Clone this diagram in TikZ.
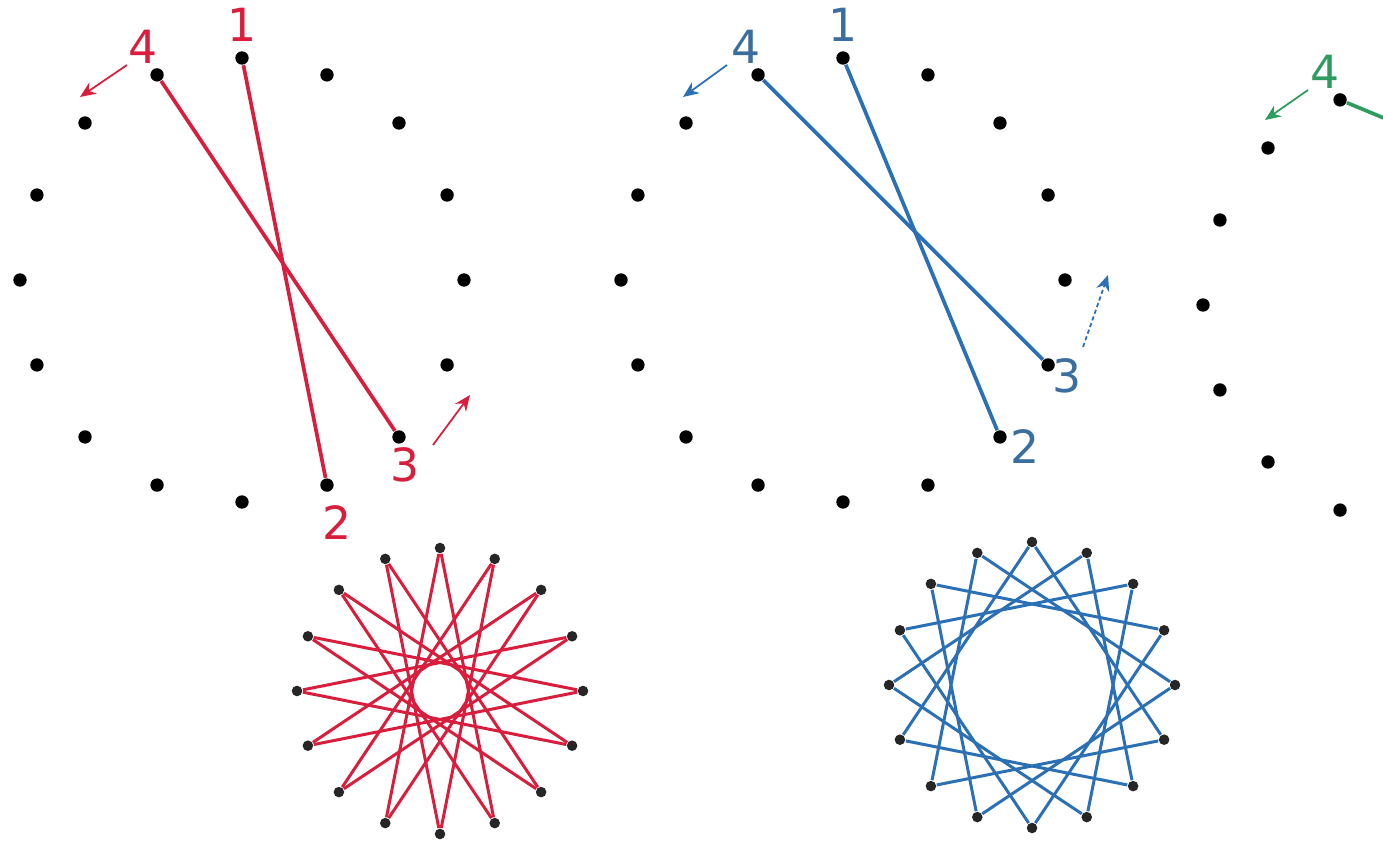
\documentclass[tikz,border=0pt]{standalone}
\usepackage{fontspec}
\setmainfont{DejaVu Sans}
\usetikzlibrary{arrows.meta, positioning, backgrounds, calc}
\definecolor{thrred}{HTML}{D81E3C}
\definecolor{thrblue}{HTML}{2B70B5}
\definecolor{lblblue}{HTML}{3A6E9E}
\definecolor{thrgreen}{HTML}{2E9C5E}

\begin{document}
\begin{tikzpicture}[
    x=0.01cm, y=0.01cm,
    pin/.style={circle, fill=black, inner sep=0pt, minimum size=3.8pt},
    spin/.style={circle, fill=black!85, inner sep=0pt, minimum size=3pt},
    thread/.style={line width=1.05pt, #1},
    sthread/.style={line width=0.85pt, #1},
    lbl/.style={text=#1, font=\fontsize{13}{15}\selectfont, inner sep=0pt},
    arrow/.style={-{Stealth[length=4.5pt, width=3.8pt]}, line width=0.5pt, #1}
  ]
    \useasboundingbox (0,0) rectangle (1383,843);
    \clip (0,0) rectangle (1383,843);

    % pins on the three boards and on the two finished stars
    \foreach \i in {0,...,15} {
      \node[pin] (r\i) at ($(242,563)+({90-22.5*\i}:222)$) {};
      \node[pin] (b\i) at ($(843,563)+({90-22.5*\i}:222)$) {};
      \node[spin] (rs\i) at ($(440,152)+({90-22.5*\i}:143)$) {};
      \node[spin] (bs\i) at ($(1032,158)+({90-22.5*\i}:143)$) {};
    }
    \foreach \i in {9,...,15}
      \node[pin] (g\i) at ($(1425,538)+({90-22.5*\i}:222)$) {};
    \coordinate (g3) at ($(1425,538)+(22.5:222)$);

    % threads
    \begin{scope}[on background layer]
      \draw[thread=thrred] (r0) -- (r7);
      \draw[thread=thrred] (r6) -- (r15);
      \draw[thread=thrblue] (b0) -- (b6);
      \draw[thread=thrblue] (b5) -- (b15);
      \draw[thread=thrgreen] (g15) -- (g3);
      \foreach \i in {0,...,15} {
        \pgfmathtruncatemacro\jr{mod(\i+7,16)}
        \pgfmathtruncatemacro\jb{mod(\i+5,16)}
        \draw[sthread=thrred] (rs\i) -- (rs\jr);
        \draw[sthread=thrblue] (bs\i) -- (bs\jb);
      }
    \end{scope}

    % numbers
    \node[lbl=thrred, above=0.8mm of r0] (rl1) {1};
    \node[lbl=thrred, below=1.2mm of r7, xshift=1mm] (rl2) {2};
    \node[lbl=thrred, below=0.3mm of r6, xshift=0.6mm] (rl3) {3};
    \node[lbl=thrred, above=0.3mm of r15, xshift=-1.4mm] (rl4) {4};
    \node[lbl=lblblue, above=0.8mm of b0] (bl1) {1};
    \node[lbl=lblblue, right=0.2mm of b6, yshift=-1mm] (bl2) {2};
    \node[lbl=lblblue, right=-0.35mm of b5, yshift=-1.1mm] (bl3) {3};
    \node[lbl=lblblue, above=0.3mm of b15, xshift=-1.2mm] (bl4) {4};
    \node[lbl=thrgreen, above=0.3mm of g15, xshift=-1.5mm] (gl4) {4};

    % direction arrows
    \coordinate (ra4s) at (127,778);
    \coordinate (ra4e) at (80,746);
    \coordinate (ra3s) at (433,398);
    \coordinate (ra3e) at (470,448);
    \coordinate (ba4s) at (727,778);
    \coordinate (ba4e) at (683,746);
    \coordinate (ba3s) at (1083,496);
    \coordinate (ba3e) at (1108,568);
    \coordinate (ga4s) at (1308,753);
    \coordinate (ga4e) at (1265,723);
    \draw[arrow=thrred] (ra4s) -- (ra4e);
    \draw[arrow=thrred] (ra3s) -- (ra3e);
    \draw[arrow=thrblue] (ba4s) -- (ba4e);
    \draw[arrow=thrblue, dash pattern=on 1.2pt off 0.8pt] (ba3s) -- (ba3e);
    \draw[arrow=thrgreen] (ga4s) -- (ga4e);
\end{tikzpicture}
\end{document}
